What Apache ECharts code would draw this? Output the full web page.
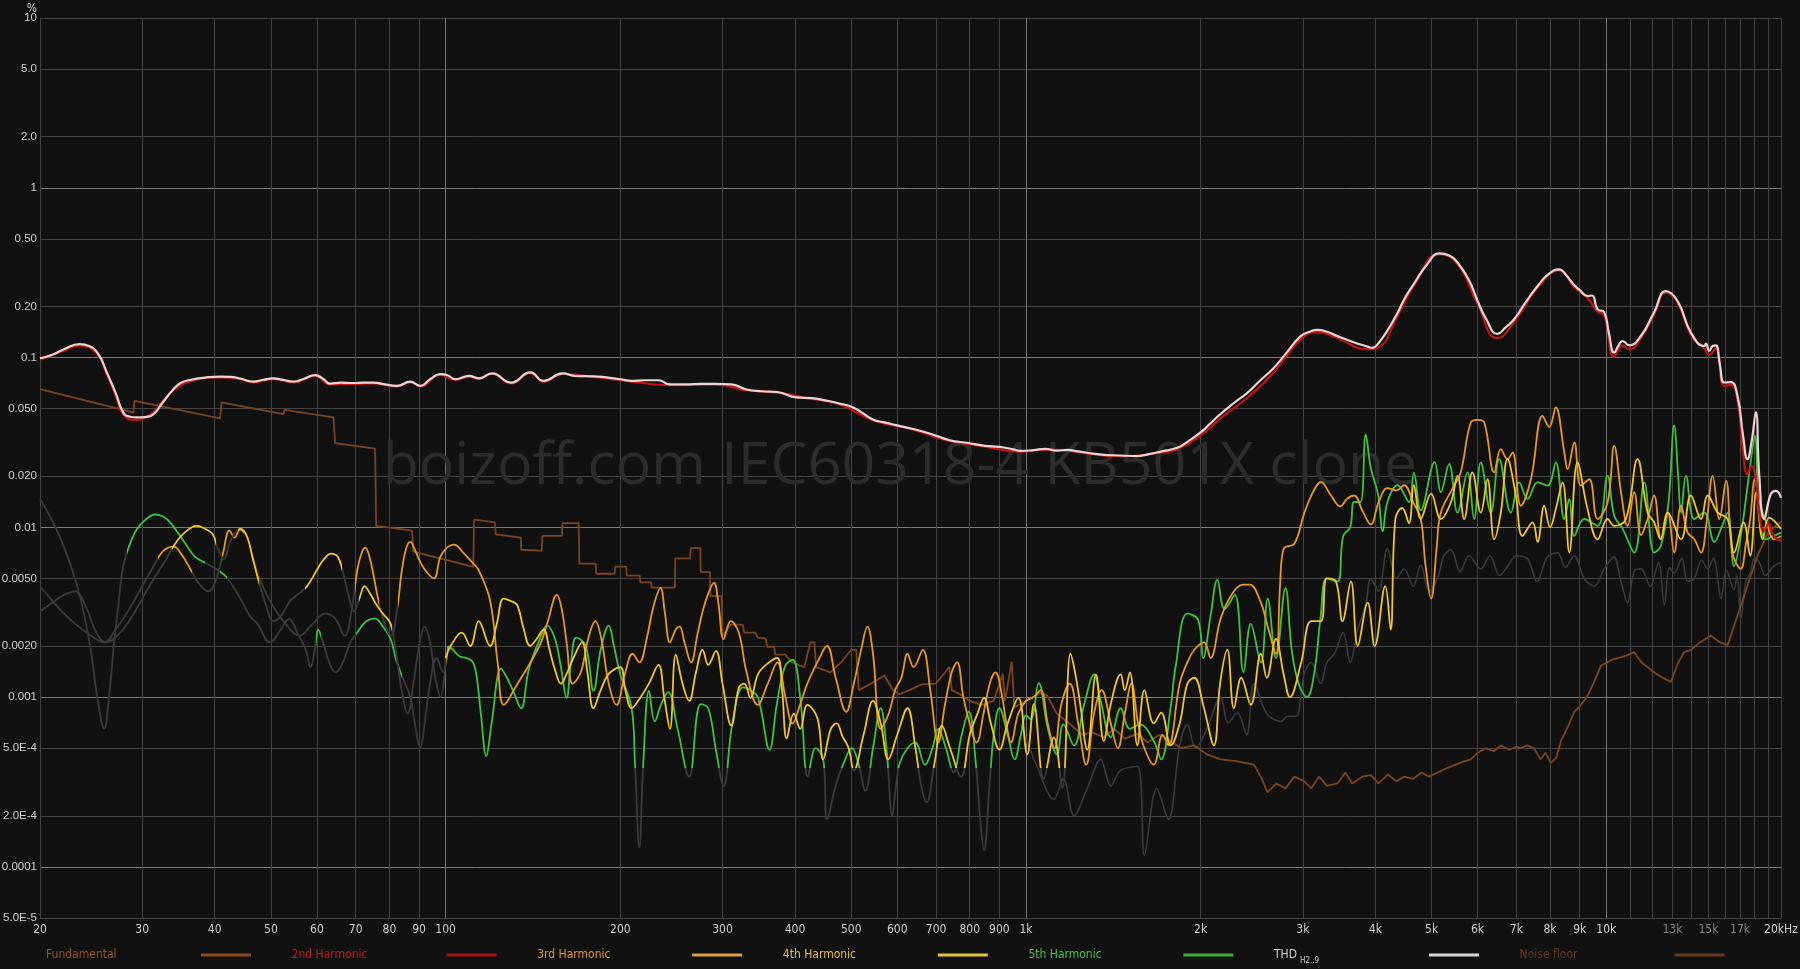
<!DOCTYPE html>
<html><head><meta charset="utf-8">
<script src="https://cdn.jsdelivr.net/npm/echarts@6/dist/echarts.min.js"></script>
<style>html,body{margin:0;padding:0;background:#111111;}#c{width:1800px;height:969px;}</style>
</head><body><div id="c"></div>
<script>
// ---------- axis ticks ----------
const xGridValues = [20,30,40,50,60,70,80,90,100,200,300,400,500,600,700,800,900,1000,2000,3000,4000,5000,6000,7000,8000,9000,10000,11000,12000,13000,14000,15000,16000,17000,18000,19000,20000];
const xLabelValues = [20,30,40,50,60,70,80,90,100,200,300,400,500,600,700,800,900,1000,2000,3000,4000,5000,6000,7000,8000,9000,10000,13000,15000,17000,20000];
const xLabelTexts = ['20','30','40','50','60','70','80','90','100','200','300','400','500','600','700','800','900','1k','2k','3k','4k','5k','6k','7k','8k','9k','10k','13k','15k','17k','20kHz'];
const xDimLabels = [13000,15000,17000];
const yGridValues = [5e-5,1e-4,2e-4,5e-4,0.001,0.002,0.005,0.01,0.02,0.05,0.1,0.2,0.5,1,2,5,10];
const yLabelTexts = ['5.0E-5','0.0001','2.0E-4','5.0E-4','0.001','0.0020','0.0050','0.01','0.020','0.050','0.1','0.20','0.50','1','2.0','5.0','10'];

// ---------- series data: [frequency Hz, distortion %] ----------
const fundamental = []; // 100 % – above the plotted range
const thd = [[20,0.099],[21,0.104],[22,0.112],[23.4,0.12],[24.3,0.117],[25.2,0.105],[26.06,0.082],[27,0.062],[27.84,0.0474],[28.6,0.0448],[29.37,0.0444],[30.3,0.0446],[31.36,0.0463],[32.5,0.054],[33.96,0.0651],[35,0.071],[36.28,0.0738],[38.5,0.0762],[40.87,0.0773],[42.5,0.077],[44.26,0.0753],[46.65,0.0722],[48.5,0.074],[50.5,0.0753],[52.5,0.0738],[54.7,0.0722],[57,0.075],[59.6,0.0787],[61.5,0.075],[63.2,0.0703],[66,0.0712],[69.4,0.0708],[72,0.0712],[75.1,0.0712],[78.5,0.0695],[82.4,0.0681],[86.9,0.0722],[90.4,0.0681],[94,0.0745],[97.9,0.0799],[100.5,0.079],[104,0.0745],[109.7,0.078],[114,0.0755],[120.2,0.0807],[129.6,0.0712],[139.9,0.0818],[147.5,0.0729],[159.2,0.0807],[166.6,0.078],[180,0.0775],[200,0.0745],[209.2,0.0729],[220,0.0735],[232.7,0.0735],[243.5,0.0695],[260,0.0695],[275,0.07],[292.2,0.07],[310.6,0.0695],[330,0.0648],[350.8,0.0633],[372.7,0.0627],[402.2,0.0582],[427.3,0.0577],[450,0.056],[475.2,0.0538],[504.9,0.0506],[544.8,0.0432],[570,0.0415],[596.8,0.04],[634.2,0.0382],[684.4,0.0356],[738.4,0.0326],[796.6,0.0314],[850,0.0302],[900,0.0298],[950,0.0288],[979,0.0282],[1030,0.0285],[1080,0.029],[1130,0.0283],[1178,0.0286],[1230,0.028],[1275,0.0275],[1350,0.0268],[1456,0.0265],[1550,0.0263],[1630,0.027],[1706,0.0279],[1823,0.0294],[1900,0.032],[2000,0.0362],[2080,0.041],[2165,0.0466],[2282,0.054],[2407,0.062],[2530,0.073],[2675,0.0872],[2820,0.108],[2974,0.1337],[3080,0.142],[3179,0.1457],[3300,0.142],[3441,0.1337],[3650,0.124],[3877,0.116],[3950,0.114],[4034,0.1195],[4200,0.145],[4367,0.1832],[4500,0.225],[4664,0.273],[4900,0.35],[5159,0.411],[5350,0.4],[5541,0.363],[5800,0.285],[5997,0.217],[6200,0.17],[6494,0.1377],[6700,0.15],[6937,0.168],[7250,0.21],[7614,0.2637],[7950,0.31],[8297,0.3307],[8500,0.31],[8808,0.2669],[9000,0.25],[9283,0.2304],[9450,0.232],[9662,0.1923],[9918,0.1849],[10100,0.14],[10320,0.107],[10500,0.118],[10670,0.1252],[10950,0.1181],[11470,0.134],[12090,0.1849],[12670,0.2465],[13270,0.2153],[13990,0.1403],[14750,0.117],[14850,0.121],[15040,0.1094],[15250,0.117],[15440,0.1181],[15700,0.09],[15970,0.0713],[16390,0.0717],[16830,0.0594],[17200,0.035],[17510,0.0252],[17800,0.032],[18100,0.0475],[18350,0.02],[18710,0.0112],[19210,0.0157],[19600,0.0164],[20000,0.0149]];
const h2 = [[20,0.097],[22,0.11],[23.4,0.118],[25.2,0.103],[26.06,0.08],[27,0.06],[27.84,0.046],[29.37,0.043],[30.5,0.0445],[31.4,0.048],[32.5,0.055],[33.96,0.064],[36.28,0.0725],[40.87,0.0765],[44.26,0.0745],[46.65,0.0715],[50.5,0.0745],[54.7,0.0715],[59.6,0.078],[63.2,0.0695],[69.4,0.07],[75.1,0.0705],[82.4,0.0675],[86.9,0.0715],[90.4,0.0675],[97.9,0.079],[104,0.0738],[109.7,0.0772],[114,0.0748],[120.2,0.08],[129.6,0.0705],[139.9,0.081],[147.5,0.0722],[159.2,0.08],[180,0.0768],[209.2,0.0722],[243.5,0.0688],[292.2,0.0693],[330,0.0642],[372.7,0.0621],[427.3,0.0571],[475.2,0.0533],[544.8,0.0428],[634.2,0.0378],[738.4,0.0323],[850,0.0299],[979,0.0279],[1080,0.0287],[1178,0.0283],[1275,0.0272],[1456,0.0262],[1706,0.0275],[1823,0.0288],[2000,0.0348],[2165,0.044],[2407,0.058],[2675,0.082],[2974,0.128],[3179,0.141],[3441,0.13],[3877,0.112],[4034,0.114],[4367,0.176],[4664,0.266],[5159,0.405],[5541,0.355],[5997,0.208],[6494,0.13],[6937,0.162],[7614,0.258],[8297,0.326],[8808,0.26],[9283,0.224],[9662,0.186],[9918,0.178],[10320,0.101],[10670,0.118],[10950,0.112],[11470,0.13],[12090,0.18],[12670,0.241],[13270,0.21],[13990,0.136],[14750,0.113],[15040,0.104],[15440,0.113],[15970,0.068],[16390,0.069],[16830,0.056],[17200,0.028],[17510,0.0206],[17800,0.023],[18100,0.0195],[18340,0.0123],[18700,0.0095],[19040,0.0105],[19430,0.0089],[20000,0.0083]];
const h3 = [[20,0.0045],[21,0.0037],[22,0.0031],[23,0.0027],[24.5,0.0023],[25.8,0.0021],[27,0.0025],[28.5,0.0033],[30,0.0045],[31.2,0.0057],[32.2,0.0069],[33,0.0075],[34,0.0077],[35,0.007],[36.3,0.0057],[37.5,0.0047],[39,0.0042],[40.3,0.005],[41.4,0.0072],[42.4,0.0096],[43.3,0.0087],[44.2,0.0097],[45.3,0.0089],[46.5,0.0068],[47.8,0.005],[50,0.0036],[53,0.0027],[56,0.0023],[59,0.0027],[62,0.0031],[64.5,0.0029],[67,0.0023],[69,0.0034],[70.5,0.0057],[71.8,0.0072],[72.7,0.0076],[74,0.0066],[75.3,0.005],[76.5,0.0038],[78.5,0.0027],[80.5,0.0023],[82.5,0.0033],[84,0.0055],[85.5,0.0075],[86.9,0.0082],[88.5,0.0074],[90.5,0.0062],[93,0.0054],[95.5,0.005],[97.9,0.0067],[100.5,0.0076],[103.3,0.0079],[107.6,0.007],[111.2,0.0062],[114,0.0056],[119.3,0.0037],[122.9,0.0016],[126,0.0009],[133,0.0012],[140,0.0016],[146,0.0021],[150,0.0028],[155.5,0.004],[158.5,0.0033],[161.6,0.0021],[165.5,0.0012],[171,0.0014],[176,0.0022],[181.1,0.0028],[185.5,0.0022],[191,0.0012],[197,0.0009],[204,0.0014],[210,0.0018],[215.7,0.0016],[222,0.0022],[228,0.0034],[234.6,0.0044],[238.5,0.0032],[243.5,0.0021],[249.2,0.0025],[253,0.0026],[258,0.0021],[264.8,0.0016],[272,0.0024],[280,0.0036],[290.1,0.0047],[295,0.0036],[301.3,0.0022],[310,0.0028],[320,0.0024],[330,0.0014],[345,0.0009],[359,0.0012],[373,0.0016],[385,0.001],[396,0.0007],[408,0.0009],[420,0.0012],[437,0.0016],[454,0.002],[470,0.0013],[490,0.00082],[505,0.0012],[520,0.0019],[533,0.0026],[545,0.0018],[562,0.00065],[580,0.0008],[595,0.0011],[610,0.0013],[625,0.0018],[640,0.0015],[664,0.0019],[684,0.0011],[706,0.00054],[725,0.0009],[745,0.0014],[761,0.0016],[780,0.001],[800,0.0007],[822,0.00054],[845,0.0008],[866,0.0012],[886,0.0014],[910,0.001],[925,0.0007],[942,0.00054],[970,0.0008],[1000,0.00095],[1030,0.001],[1060,0.0011],[1090,0.0007],[1120,0.0005],[1150,0.0009],[1190,0.0012],[1230,0.0007],[1270,0.0004],[1310,0.0008],[1350,0.0011],[1400,0.0007],[1440,0.0005],[1480,0.0008],[1520,0.0012],[1560,0.0007],[1600,0.0005],[1660,0.0004],[1720,0.0006],[1760,0.00052],[1840,0.0012],[1897,0.0016],[1950,0.0019],[2027,0.0021],[2080,0.0017],[2165,0.0029],[2260,0.004],[2370,0.0046],[2430,0.0046],[2540,0.0036],[2610,0.0026],[2696,0.0018],[2740,0.0045],[2780,0.0075],[2900,0.008],[3014,0.012],[3120,0.016],[3221,0.0185],[3350,0.0155],[3480,0.0133],[3580,0.0148],[3677,0.0154],[3800,0.0125],[3929,0.0104],[4050,0.014],[4196,0.017],[4350,0.0165],[4483,0.0177],[4650,0.014],[4790,0.0112],[4880,0.006],[4990,0.0038],[5100,0.0075],[5186,0.0122],[5467,0.0176],[5614,0.0211],[5842,0.0416],[6000,0.043],[6160,0.0416],[6409,0.0211],[6580,0.0289],[6758,0.0252],[6893,0.0276],[7124,0.0134],[7415,0.0192],[7765,0.0454],[7974,0.039],[8183,0.0508],[8465,0.0276],[8577,0.022],[8808,0.0316],[9040,0.0176],[9345,0.0192],[9660,0.0112],[10050,0.014],[10320,0.0302],[10600,0.0161],[10880,0.0102],[11170,0.0161],[11480,0.009],[11780,0.0112],[12090,0.0154],[12420,0.0085],[12760,0.0122],[13090,0.0071],[13450,0.0134],[13810,0.0093],[14180,0.0085],[14560,0.0071],[14900,0.011],[15250,0.0201],[15660,0.0112],[16080,0.0188],[16490,0.0071],[17050,0.0057],[17400,0.008],[17700,0.0112],[18030,0.0192],[18360,0.014],[18960,0.0102],[19430,0.0085],[20000,0.0089]];
const h4 = [[20,0.0032],[21,0.0036],[22,0.004],[23,0.0042],[24,0.0034],[25,0.0024],[26,0.0021],[27.5,0.0024],[29,0.0031],[30.5,0.0042],[32,0.0055],[33,0.0065],[34,0.0078],[35.5,0.0093],[37.25,0.0102],[38.5,0.0098],[39.7,0.0091],[40.5,0.0075],[41.5,0.0065],[42.5,0.0082],[43.5,0.0094],[44.3,0.0098],[45.5,0.0088],[46.5,0.0066],[47.5,0.005],[49,0.0035],[50.5,0.0028],[52,0.003],[54,0.0037],[56,0.0041],[57.7,0.0045],[60,0.0056],[61.5,0.0064],[63.5,0.007],[65.2,0.0067],[66.5,0.0055],[68,0.004],[69.5,0.0032],[71,0.0038],[72.5,0.0045],[74,0.0041],[76,0.0035],[78,0.0031],[80.4,0.0027],[82,0.0019],[84,0.0011],[86,0.0008],[88,0.0012],[90,0.002],[92,0.0026],[94,0.0021],[96,0.0013],[98,0.001],[100,0.0017],[102,0.002],[106.6,0.0024],[110.3,0.002],[114,0.0028],[119.3,0.002],[122.5,0.0027],[125.8,0.0038],[129,0.0037],[132.7,0.0035],[136,0.0026],[139.9,0.002],[143.5,0.0022],[147.5,0.0025],[151,0.0019],[154.4,0.00144],[158,0.0012],[161.6,0.00137],[166,0.0017],[171.8,0.0021],[175.5,0.0014],[179.8,0.00086],[185,0.0011],[191,0.00137],[199.9,0.0015],[204,0.0011],[209.2,0.00086],[216,0.00098],[224,0.0012],[232.7,0.00155],[238,0.001],[243.5,0.00065],[249.2,0.00178],[256,0.0012],[262.8,0.00095],[270,0.0014],[277.2,0.0019],[283.5,0.00155],[292.2,0.00187],[300,0.0012],[310.6,0.00068],[320.1,0.00114],[327,0.0012],[335.1,0.00099],[345.5,0.00137],[358.9,0.00158],[372.8,0.0017],[380,0.0011],[387,0.00057],[398,0.0008],[408.4,0.00065],[420,0.0009],[437.2,0.00075],[447.3,0.00043],[461,0.00065],[472,0.0007],[482.6,0.00059],[495,0.0005],[505,0.00037],[525,0.0006],[545,0.00095],[562,0.0007],[579.2,0.00043],[600,0.0006],[624.9,0.00086],[645,0.0005],[660,0.0003],[674.3,0.00024],[695,0.0004],[716.5,0.00068],[740,0.0005],[773.2,0.00034],[800,0.0006],[825,0.0008],[846.8,0.00099],[870,0.0007],[899.9,0.00049],[930,0.0007],[970.4,0.00099],[1005,0.00046],[1032,0.00091],[1073,0.00033],[1117,0.00058],[1155,0.00029],[1193,0.0018],[1215,0.0014],[1240,0.00091],[1275,0.00049],[1320,0.00136],[1362,0.00055],[1400,0.00091],[1456,0.00136],[1480,0.0011],[1510,0.0014],[1556,0.00052],[1600,0.0011],[1661,0.0007],[1710,0.00081],[1776,0.00052],[1840,0.0007],[1897,0.0012],[1950,0.0013],[2020,0.0009],[2108,0.00052],[2160,0.0012],[2223,0.0019],[2282,0.00086],[2350,0.0013],[2440,0.0009],[2540,0.0018],[2600,0.0013],[2696,0.0022],[2780,0.00136],[2850,0.001],[2980,0.0016],[3100,0.0028],[3221,0.0028],[3300,0.005],[3420,0.0048],[3510,0.0028],[3630,0.0048],[3730,0.002],[3880,0.0036],[3990,0.002],[4160,0.0045],[4250,0.0025],[4330,0.0112],[4450,0.013],[4570,0.0106],[4660,0.0177],[4790,0.0112],[4990,0.0158],[5186,0.0112],[5396,0.014],[5541,0.0201],[5690,0.0112],[5880,0.0211],[6078,0.0122],[6242,0.0192],[6409,0.0085],[6580,0.0122],[6758,0.0252],[6985,0.0154],[7170,0.0089],[7464,0.0107],[7613,0.0082],[7816,0.0134],[8000,0.01],[8183,0.0128],[8408,0.0184],[8635,0.0071],[8920,0.0241],[9283,0.0128],[9660,0.0085],[10050,0.0112],[10320,0.0102],[10810,0.0112],[11320,0.0252],[11780,0.0122],[12090,0.0107],[12400,0.0085],[12760,0.0122],[13450,0.0085],[13990,0.0154],[14560,0.0112],[14950,0.0154],[15560,0.0122],[16180,0.0112],[16600,0.0071],[17240,0.0107],[17700,0.0068],[18130,0.0161],[18600,0.0085],[19090,0.0114],[20000,0.0098]];
const h5 = [[20,0.0147],[20.7,0.012],[21.6,0.0089],[22.5,0.0062],[23.4,0.004],[24.4,0.002],[25.1,0.001],[25.8,0.00065],[26.3,0.001],[26.8,0.002],[27.3,0.0035],[27.8,0.0058],[28.5,0.0078],[29.4,0.0098],[30.5,0.0112],[31.6,0.0119],[32.7,0.0115],[33.6,0.0106],[34.8,0.009],[35.8,0.0078],[37,0.0067],[38.8,0.0061],[40.5,0.0056],[41.9,0.0051],[44.3,0.0038],[46,0.003],[47.4,0.0027],[49.8,0.0021],[52,0.0025],[53.7,0.0029],[55.5,0.0024],[57.4,0.0019],[58.5,0.0015],[59.5,0.0019],[60.3,0.0025],[61.5,0.0021],[63,0.0016],[64.6,0.0014],[66.5,0.0016],[68.5,0.0021],[70.4,0.0024],[73,0.0028],[75.6,0.0029],[78,0.0026],[80.4,0.0022],[82,0.0017],[83.6,0.0014],[86.9,0.001],[88.5,0.0007],[90.4,0.0005],[92,0.0007],[94,0.0012],[96.5,0.0017],[99,0.0014],[100.9,0.002],[103,0.0019],[105.6,0.00174],[108.5,0.0017],[111.2,0.00162],[112.9,0.00137],[115,0.0008],[117.5,0.00045],[120,0.0007],[124.6,0.00147],[127.5,0.0013],[130.7,0.00109],[134.9,0.00086],[139,0.00144],[144.5,0.0021],[149.8,0.00264],[154.4,0.00219],[158,0.0015],[161.6,0.00099],[164.5,0.0016],[167.9,0.00224],[174.4,0.002],[179.8,0.00109],[185,0.0019],[191,0.00264],[195,0.002],[199.9,0.00137],[209.2,0.00086],[212,0.0004],[215.7,0.00013],[219,0.0004],[224.1,0.00109],[229.3,0.00072],[235,0.0009],[241.8,0.00107],[251,0.00065],[262.8,0.00034],[275.1,0.00091],[283.5,0.00086],[292.2,0.00049],[301.3,0.0003],[312,0.0007],[325,0.00114],[335,0.0011],[345.5,0.00099],[361.5,0.00049],[372,0.0009],[384.2,0.00151],[396.2,0.00166],[408.4,0.00099],[421,0.00034],[434,0.0005],[447.3,0.00043],[454.1,0.00019],[470,0.0003],[484,0.0004],[501.3,0.0005],[515,0.0004],[528.7,0.00028],[545,0.0005],[561.9,0.00086],[575,0.0005],[588.3,0.0002],[597,0.0003],[606.2,0.00041],[625,0.0005],[644.2,0.00054],[670,0.0004],[690,0.0005],[705.8,0.00065],[728,0.0005],[749.9,0.00036],[775,0.0006],[796.7,0.00082],[820,0.0004],[833,0.0002],[846.8,0.000125],[865,0.0003],[880,0.0006],[899.9,0.00086],[930,0.0006],[956,0.00043],[980,0.0006],[1000.6,0.00078],[1019,0.00074],[1052,0.00121],[1091,0.00065],[1131,0.00046],[1160,0.00069],[1210,0.00052],[1260,0.00091],[1311,0.00136],[1345,0.00095],[1400,0.00058],[1456,0.00086],[1510,0.00065],[1570,0.00069],[1661,0.00055],[1710,0.00043],[1776,0.00088],[1810,0.0015],[1897,0.0031],[1980,0.00285],[2020,0.0017],[2080,0.003],[2137,0.0049],[2200,0.0033],[2290,0.004],[2370,0.0014],[2440,0.0027],[2540,0.0016],[2610,0.0038],[2696,0.0017],[2800,0.0044],[2870,0.0019],[2950,0.0012],[3050,0.001],[3140,0.0014],[3220,0.003],[3300,0.005],[3441,0.0048],[3520,0.0089],[3620,0.01],[3677,0.0141],[3770,0.0141],[3850,0.0351],[3929,0.0222],[4040,0.0158],[4120,0.0095],[4196,0.0141],[4370,0.0177],[4570,0.0141],[4660,0.021],[4790,0.0126],[5060,0.0242],[5186,0.0161],[5360,0.0236],[5541,0.0122],[5765,0.0211],[5919,0.0112],[6078,0.0241],[6324,0.0122],[6537,0.0252],[6848,0.0122],[7078,0.0184],[7318,0.0147],[7613,0.0184],[7922,0.0176],[8183,0.0241],[8465,0.0112],[8635,0.0147],[8808,0.0089],[9160,0.0112],[9660,0.0102],[10050,0.0201],[10320,0.0117],[10670,0.0098],[11170,0.0071],[11630,0.0184],[12090,0.0071],[12420,0.0078],[12800,0.014],[13090,0.0398],[13300,0.02],[13450,0.0122],[13720,0.0201],[14180,0.0112],[14750,0.0122],[15350,0.0082],[15800,0.01],[16180,0.0122],[16600,0.0059],[17050,0.0089],[17700,0.0231],[18030,0.0346],[18360,0.0112],[18840,0.0085],[19430,0.0089],[20000,0.0093]];
const noiseFloor = [[20,0.0651],[27.47,0.0497],[28.97,0.0474],[29.1,0.0556],[40.87,0.0438],[41.1,0.0544],[52.55,0.0464],[52.8,0.0492],[64.07,0.0444],[64.5,0.0313],[75.6,0.0291],[75.9,0.0102],[87.5,0.00955],[88,0.0072],[111.6,0.00585],[111.9,0.0111],[121.6,0.0107],[122,0.0091],[134.7,0.0087],[135,0.00738],[146.4,0.0073],[146.8,0.0089],[158.6,0.0089],[159,0.0106],[169.5,0.0106],[170,0.00612],[181.3,0.00612],[181.8,0.00533],[195.5,0.00533],[196,0.00587],[204.7,0.00587],[205.2,0.0052],[216,0.0052],[216.5,0.00474],[226,0.00474],[226.5,0.00442],[248.3,0.00442],[248.8,0.00657],[263.9,0.00657],[264.4,0.00755],[274.7,0.00755],[275.2,0.00545],[285.4,0.00545],[285.9,0.00393],[298.8,0.00393],[300,0.0023],[310,0.00267],[325,0.00267],[327,0.0024],[342,0.0024],[345,0.00224],[356,0.00222],[358,0.00198],[368,0.00198],[370,0.00178],[385,0.00178],[395,0.0016],[415,0.0015],[425,0.0021],[432,0.0021],[435,0.0015],[460,0.0014],[480,0.0016],[500,0.0019],[510,0.0019],[515,0.0011],[540,0.0012],[570,0.00134],[590,0.0011],[605,0.00104],[630,0.0011],[662,0.00119],[700,0.0012],[738,0.00151],[745,0.0011],[770,0.00104],[800,0.00095],[837,0.0009],[880,0.00095],[912,0.00137],[920,0.00095],[945,0.00162],[955,0.00087],[1000,0.00095],[1060,0.00106],[1088,0.00102],[1130,0.0008],[1193,0.00069],[1250,0.0006],[1300,0.00062],[1362,0.00058],[1420,0.00065],[1480,0.00057],[1556,0.00061],[1620,0.00054],[1700,0.0006],[1776,0.00055],[1850,0.0005],[1948,0.00052],[2050,0.00046],[2165,0.00043],[2300,0.00042],[2472,0.0004],[2550,0.00033],[2607,0.000275],[2700,0.00031],[2800,0.00029],[2900,0.00034],[3014,0.00032],[3100,0.00029],[3200,0.00034],[3300,0.0003],[3441,0.00031],[3550,0.00036],[3650,0.00031],[3800,0.00034],[3929,0.000347],[4050,0.00031],[4200,0.00035],[4350,0.00032],[4483,0.00034],[4650,0.00033],[4800,0.00036],[4950,0.00034],[5118,0.00036],[5300,0.00038],[5500,0.0004],[5700,0.00042],[5842,0.00043],[6000,0.00047],[6200,0.0005],[6400,0.00048],[6580,0.00052],[6800,0.00049],[7000,0.00051],[7124,0.0005],[7300,0.00052],[7510,0.0005],[7700,0.00043],[7850,0.00047],[8023,0.00041],[8200,0.00044],[8350,0.00055],[8600,0.00068],[8808,0.00082],[9000,0.00088],[9283,0.00102],[9500,0.0012],[9788,0.00153],[10180,0.00165],[10500,0.0017],[10800,0.00175],[11170,0.00184],[11500,0.0016],[12090,0.0014],[12500,0.0013],[12920,0.00123],[13300,0.0016],[13620,0.00184],[14000,0.0019],[14500,0.0021],[15150,0.0023],[15700,0.0021],[16190,0.00203],[16610,0.00264],[17050,0.00346],[17510,0.00454],[18220,0.00681],[19000,0.00935],[20000,0.0108]];
// grey traces: harmonic levels drawn as "not significant" in the original
const belowThreshold = [[979,0.00069],[1045,0.00039],[1117,0.00025],[1160,0.00033],[1210,0.0002],[1275,0.00029],[1345,0.00043],[1400,0.0003],[1456,0.00037],[1556,0.00039],[1600,0.000117],[1680,0.00029],[1760,0.00019],[1840,0.00052],[1897,0.00069],[1960,0.0005],[2050,0.00065],[2165,0.001],[2230,0.0007],[2313,0.00081],[2400,0.0006],[2472,0.0012],[2600,0.0008],[2750,0.00072],[2821,0.00077],[2920,0.00077],[3014,0.00136],[3100,0.0016],[3221,0.0012],[3300,0.0016],[3400,0.0018],[3520,0.0024],[3620,0.0016],[3730,0.0025],[3850,0.0035],[3929,0.005],[4050,0.0042],[4196,0.0075],[4350,0.005],[4483,0.0057],[4650,0.0045],[4790,0.006],[4950,0.0042],[5118,0.005],[5250,0.0068],[5396,0.0074],[5600,0.0055],[5800,0.0068],[6078,0.0057],[6300,0.0068],[6550,0.0052],[6758,0.0059],[7000,0.0068],[7318,0.0065],[7600,0.0048],[7900,0.0066],[8240,0.0071],[8500,0.0058],[8800,0.0068],[9160,0.005],[9530,0.0045],[9919,0.0057],[10300,0.0067],[10600,0.0048],[10880,0.0036],[11170,0.0055],[11470,0.0057],[11900,0.0045],[12300,0.0062],[12590,0.0035],[12850,0.0058],[13090,0.0054],[13500,0.0066],[13800,0.0048],[14180,0.005],[14600,0.0064],[14950,0.0057],[15300,0.0066],[15770,0.0038],[16100,0.0056],[16600,0.0043],[16800,0.0052],[17050,0.0029],[17400,0.0048],[17700,0.0054],[18000,0.0066],[18360,0.0062],[18800,0.0052],[19430,0.0059],[20000,0.0062]];
// frequency ranges (below 100 Hz) where each harmonic is drawn in colour
const h3Coloured = [[32,36.5],[41.2,45],[69.8,76.8],[82.8,1e6]];
const h4Coloured = [[33.8,40.2],[43.8,47.6],[57.3,66.2],[70.8,80.8],[100.2,1e6]];
const h5Coloured = [[28.3,38.5],[40.8,42],[59.8,61],[70,84],[100.5,1e6]];

// ---------- styling ----------
const FONT = "'Liberation Sans Narrow','DejaVu Sans Condensed','Roboto',sans-serif";
const YFONT = "'Liberation Sans Narrow','Liberation Sans','Roboto',sans-serif";
const GREY = '#3a3a3a';
const COL = {fund:'#8b4c22', h2:'#c41212', h3:'#e8981e', h4:'#f0c628', h5:'#3cc23c', thd:'#ead4d4', noise:'#7b451c'};
const GRID_N = '#444444', GRID_D = '#767676';
const LOW_CUT = 100, MAIN_THRESHOLD = 0.00038;

function near(a, b) { return Math.abs(Math.log10(a) - Math.log10(b)) < 1e-6; }
function xLabel(v) { v = Number(v); const i = xLabelValues.findIndex(t => near(t, v)); return i < 0 ? '' : xLabelTexts[i]; }
function yLabel(v) { v = Number(v); const i = yGridValues.findIndex(t => near(t, v)); return i < 0 ? '' : yLabelTexts[i]; }
const xSplitColors = xGridValues.map(v => [100, 1000, 10000].includes(v) ? GRID_D : GRID_N);
const ySplitColors = yGridValues.map(v => [1, 0.1, 0.01, 0.001, 0.0001].some(d => near(d, v)) ? GRID_D : GRID_N);

// finite pieces only (every piece has both bounds)
function piecesFromRanges(ranges, color) {
  const p = []; let prev = 1;
  ranges.forEach(([a, b]) => {
    p.push({gte: prev, lt: a, color: GREY});
    p.push({gte: a, lt: b, color: color});
    prev = b;
  });
  return p;
}
function splitAt(data, f) { const i = data.findIndex(p => p[0] >= f); return [data.slice(0, i + 1), data.slice(i)]; }

const series = [];
const visualMap = [];
series.push({name: 'below threshold', type: 'line', data: belowThreshold, showSymbol: false, smooth: 0.35,
  lineStyle: {color: GREY, width: 1.6}, itemStyle: {color: GREY}, silent: true, z: 2});
series.push({name: 'Noise floor', type: 'line', data: noiseFloor, showSymbol: false,
  lineStyle: {color: COL.noise, width: 1.8}, itemStyle: {color: COL.noise}, z: 3});
series.push({name: 'Fundamental', type: 'line', data: fundamental, showSymbol: false,
  lineStyle: {color: COL.fund, width: 2}, itemStyle: {color: COL.fund}, z: 3});
[
  {name: '5th Harmonic', data: h5, color: COL.h5, ranges: h5Coloured},
  {name: '3rd Harmonic', data: h3, color: COL.h3, ranges: h3Coloured},
  {name: '4th Harmonic', data: h4, color: COL.h4, ranges: h4Coloured}
].forEach((h, k) => {
  const [low, main] = splitAt(h.data, LOW_CUT);
  series.push({name: h.name, type: 'line', data: low, showSymbol: false, smooth: 0.4,
    lineStyle: {width: 1.8}, itemStyle: {color: h.color}, z: 4 + k});
  visualMap.push({type: 'piecewise', show: false, seriesIndex: series.length - 1, dimension: 0,
    pieces: piecesFromRanges(h.ranges, h.color)});
  series.push({name: h.name, type: 'line', data: main, showSymbol: false, smooth: 0.4,
    lineStyle: {width: 1.8}, itemStyle: {color: h.color}, z: 4 + k});
  visualMap.push({type: 'piecewise', show: false, seriesIndex: series.length - 1, dimension: 1,
    pieces: [{gte: 1e-6, lt: MAIN_THRESHOLD, color: GREY}, {gte: MAIN_THRESHOLD, lt: 100, color: h.color}]});
});
series.push({name: '2nd Harmonic', type: 'line', data: h2, showSymbol: false, smooth: 0.5,
  lineStyle: {color: COL.h2, width: 2.2}, itemStyle: {color: COL.h2}, z: 8});
series.push({name: 'THD', type: 'line', data: thd, showSymbol: false, smooth: 0.5,
  lineStyle: {color: COL.thd, width: 2.2}, itemStyle: {color: COL.thd}, z: 9});

const legendItems = [
  {name: 'Fundamental', icon: '#8b4c22', text: '#9a5220'},
  {name: '2nd Harmonic', icon: '#a81212', text: '#c41a1a'},
  {name: '3rd Harmonic', icon: '#e0a040', text: '#e0962a'},
  {name: '4th Harmonic', icon: '#e6c440', text: '#e8c030'},
  {name: '5th Harmonic', icon: '#38b038', text: '#44c444'},
  {name: 'THD', icon: '#d8d8d8', text: '#d0d0d0'},
  {name: 'Noise floor', icon: '#6a3816', text: '#6a3a1a'}
];

const chart = echarts.init(document.getElementById('c'), null, {renderer: 'canvas', width: 1800, height: 969});
chart.setOption({
  backgroundColor: '#111111',
  animation: false,
  grid: {left: 40, right: 19, top: 18, bottom: 51, containLabel: false, outerBoundsMode: 'none'},
  xAxis: {
    type: 'log', logBase: 10, min: 20, max: 20000,
    axisLine: {show: false},
    axisTick: {show: false, customValues: xGridValues},
    splitLine: {show: true, customValues: xGridValues, lineStyle: {color: xSplitColors, width: 1}},
    minorSplitLine: {show: false},
    axisLabel: {customValues: xLabelValues, formatter: xLabel, margin: 6, fontSize: 12, fontFamily: FONT,
      color: v => xDimLabels.some(d => near(d, Number(v))) ? '#858585' : '#d0d0d0',
      showMinLabel: true, showMaxLabel: true, hideOverlap: false}
  },
  yAxis: {
    type: 'log', logBase: 10, min: 5e-5, max: 10,
    name: '%', nameLocation: 'end', nameGap: 3, nameMoveOverlap: false,
    nameTextStyle: {color: '#d0d0d0', fontSize: 12, fontFamily: FONT, align: 'right', padding: [0, 3, 0, 0]},
    axisLine: {show: false},
    axisTick: {show: false, customValues: yGridValues},
    splitLine: {show: true, customValues: yGridValues, lineStyle: {color: ySplitColors, width: 1}},
    axisLabel: {customValues: yGridValues, formatter: yLabel, margin: 3, fontSize: 11.5, fontFamily: YFONT,
      color: '#d0d0d0', showMinLabel: true, showMaxLabel: true, hideOverlap: false}
  },
  visualMap: visualMap,
  legend: {
    left: 41, top: 944, orient: 'horizontal', align: 'right', icon: 'rect',
    itemWidth: 50, itemHeight: 3, itemGap: 40.6, selectedMode: false,
    textStyle: {fontSize: 12, fontFamily: FONT,
      rich: {
        t: {width: 150, align: 'left', fontSize: 12, fontFamily: FONT},
        th: {width: 26, align: 'left', fontSize: 12, fontFamily: FONT},
        s: {width: 124, align: 'left', fontSize: 8, fontFamily: FONT, padding: [12, 0, 0, 0]}
      }},
    formatter: n => n === 'THD' ? '{th|THD}{s|H2..9}' : '{t|' + n + '}',
    data: legendItems.map(d => ({name: d.name, itemStyle: {color: d.icon, borderWidth: 0}, textStyle: {color: d.text}}))
  },
  graphic: [{
    type: 'text', left: 'center', top: 438, z: 1, silent: true,
    style: {text: 'boizoff.com IEC60318-4 KB501X clone', fill: '#2c2c2c', fontSize: 59,
      fontFamily: "'Open Sans','Noto Sans',sans-serif"}
  }],
  series: series
});
</script>
</body></html>
